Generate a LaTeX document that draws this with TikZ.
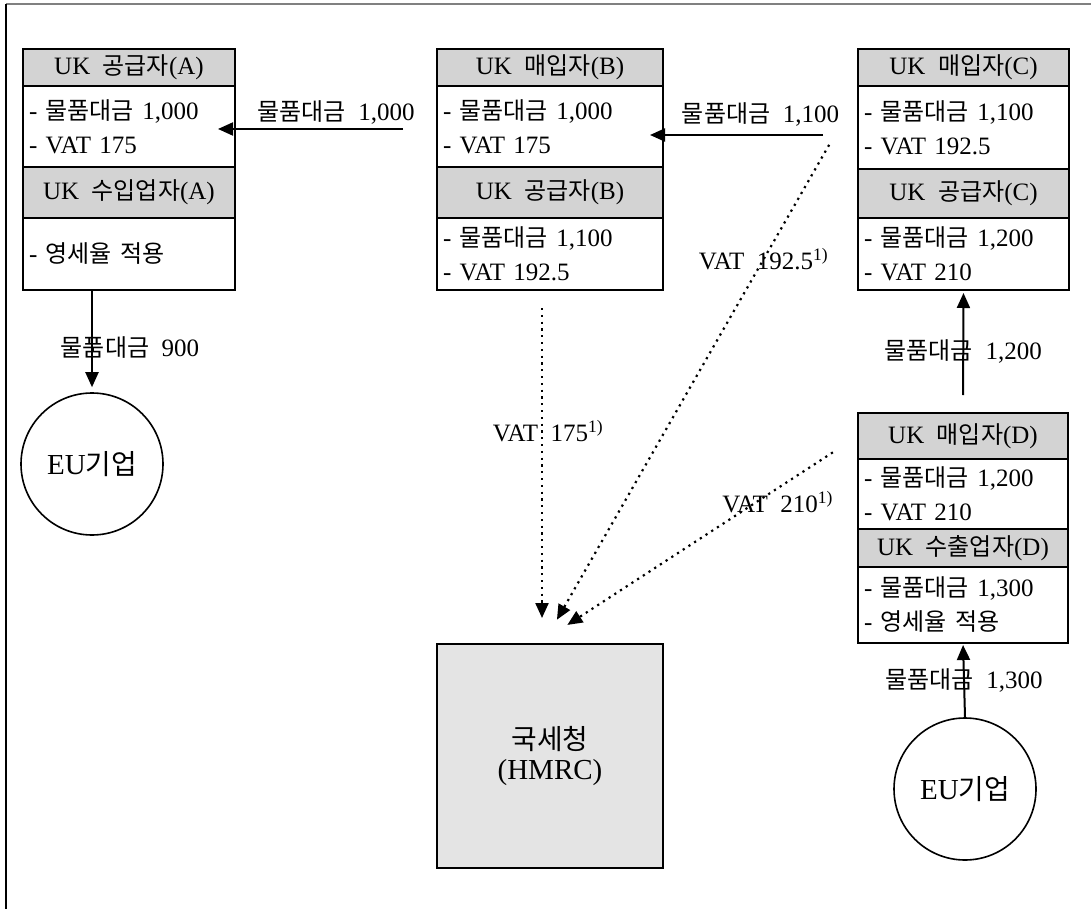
\documentclass[tikz,border=0pt]{standalone}
\usepackage{fontspec}
\setmainfont{Liberation Serif}[WordSpace=2]
\newfontfamily\kr[Scale=0.96, WordSpace=1.4]{Noto Sans CJK KR}
\newcommand{\ko}[1]{{\kr #1}}
\usepackage{tikz}
\usetikzlibrary{positioning, arrows.meta}
\definecolor{headgray}{RGB}{211,211,211}
\definecolor{taxgray}{RGB}{228,228,228}

\begin{document}
\begin{tikzpicture}[x=1pt, y=-1pt, font=\fontsize{25}{34}\selectfont,
  >={Triangle[length=15pt, width=13pt]},
  cell/.style={draw, line width=2.6pt, outer sep=0pt, inner ysep=0pt},
  head/.style={cell, fill=headgray, inner xsep=0pt, align=center},
  body/.style={cell, fill=white, inner xsep=6pt, align=left},
  money/.style={->, line width=2pt},
  vat/.style={->, line width=2.2pt, dash pattern=on 2.2pt off 4.6pt},
  firm/.style={circle, draw, line width=1.6pt, minimum size=142pt, inner sep=0pt, font=\fontsize{29}{34}\selectfont}]
  \useasboundingbox (0,0) rectangle (1091,909);
  % frame edges
  \draw[gray, line width=1.5pt] (6,4) -- (1091,4);
  \draw[line width=2pt] (6,4) -- (6,909);

  % A
  \node[head, minimum width=212pt, minimum height=37pt, anchor=north west] (ahead) at (23,49) {UK \ko{공급자}(A)};
  \node[body, text width=200pt, minimum height=81pt, below=0pt of ahead] (abody) {- \ko{물품대금} 1,000\\- VAT 175};
  \node[head, minimum width=212pt, minimum height=51pt, below=0pt of abody] (ahead2) {UK \ko{수입업자}(A)};
  \node[body, text width=200pt, minimum height=72pt, below=0pt of ahead2] (abody2) {- \ko{영세율 적용}};
  % B
  \node[head, minimum width=226pt, minimum height=37pt, anchor=north west] (bhead) at (437,49) {UK \ko{매입자}(B)};
  \node[body, text width=214pt, minimum height=81pt, below=0pt of bhead] (bbody) {- \ko{물품대금} 1,000\\- VAT 175};
  \node[head, minimum width=226pt, minimum height=51pt, below=0pt of bbody] (bhead2) {UK \ko{공급자}(B)};
  \node[body, text width=214pt, minimum height=72pt, below=0pt of bhead2] (bbody2) {- \ko{물품대금} 1,100\\- VAT 192.5};
  % C
  \node[head, minimum width=211pt, minimum height=37pt, anchor=north west] (chead) at (858,49) {UK \ko{매입자}(C)};
  \node[body, text width=199pt, minimum height=83pt, below=0pt of chead] (cbody) {- \ko{물품대금} 1,100\\- VAT 192.5};
  \node[head, minimum width=211pt, minimum height=49pt, below=0pt of cbody] (chead2) {UK \ko{공급자}(C)};
  \node[body, text width=199pt, minimum height=72pt, below=0pt of chead2] (cbody2) {- \ko{물품대금} 1,200\\- VAT 210};
  % D
  \node[head, minimum width=210pt, minimum height=46pt, anchor=north west] (dhead) at (858,413) {UK \ko{매입자}(D)};
  \node[body, text width=198pt, minimum height=70pt, below=0pt of dhead] (dbody) {- \ko{물품대금} 1,200\\- VAT 210};
  \node[head, minimum width=210pt, minimum height=38pt, below=0pt of dbody] (dhead2) {UK \ko{수출업자}(D)};
  \node[body, text width=198pt, minimum height=76pt, below=0pt of dhead2] (dbody2) {- \ko{물품대금} 1,300\\- \ko{영세율 적용}};

  \node[firm] (eu1) at (92,464) {EU\ko{기업}};
  \node[firm] (eu2) at (965,789) {EU\ko{기업}};
  \node[cell, fill=taxgray, minimum width=226pt, minimum height=224pt, anchor=north west, align=center, font=\fontsize{29}{30}\selectfont] (hmrc) at (437,644) {\ko{국세청}\\(HMRC)};

  % goods payments
  \draw[money, shorten <=34pt, shorten >=-17pt] ([yshift=-2.5pt]bbody.west) -- ([yshift=-2.5pt]abody.east) node[midway, above] {\ko{물품대금} 1,000};
  \draw[money, shorten <=35pt, shorten >=-13pt] ([yshift=-7.5pt]cbody.west) -- ([yshift=-8.5pt]bbody.east) node[midway, above=4pt] {\ko{물품대금} 1,100};
  \draw[money, shorten >=5pt] (eu1.north |- abody2.south) -- (eu1.north) node[pos=0.56, xshift=38pt] {\ko{물품대금} 900};
  \draw[money, shorten <=18pt, shorten >=3pt] (dhead.north) -- (cbody2.south) node[midway] {\ko{물품대금} 1,200};
  \draw[money, shorten >=2pt] (eu2.north) -- (dbody2.south) node[midway] {\ko{물품대금} 1,300};

  % VAT to HMRC
  \draw[vat, shorten <=18pt, shorten >=26pt] ([xshift=-8pt]bbody2.south) -- ([xshift=-8pt]hmrc.north) node[pos=0.4, xshift=6pt] {VAT 175\textsuperscript{1)}};
  \draw[vat, shorten <=58pt, shorten >=28pt] ([yshift=33pt]cbody.west) -- ([xshift=-7pt]hmrc.north) node[pos=0.3] {VAT 192.5\textsuperscript{1)}};
  \draw[vat, shorten <=30pt, shorten >=35pt] (dhead.west) -- ([xshift=-12pt]hmrc.north) node[pos=0.32, xshift=22pt] {VAT 210\textsuperscript{1)}};
\end{tikzpicture}
\end{document}
